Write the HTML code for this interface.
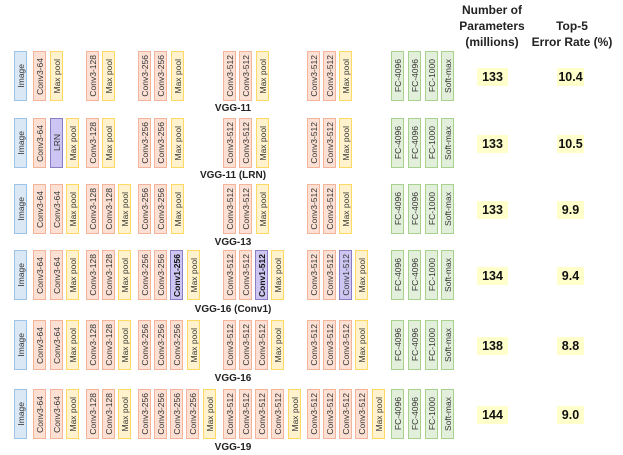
<!DOCTYPE html>
<html><head><meta charset="utf-8"><style>
body{margin:0;width:623px;height:455px;background:#fff;position:relative;overflow:hidden;font-family:"Liberation Sans",sans-serif}
.b{position:absolute;width:11px;height:48px;border:1.5px solid;display:flex;align-items:center;justify-content:center}
.b span{writing-mode:vertical-rl;transform:rotate(180deg);font-size:8.5px;color:#333;white-space:nowrap}
.i{background:#dae8f5;border-color:#9dc3e6}
.c{background:#fbe0d3;border-color:#f4b49a}
.m{background:#fff2cc;border-color:#ffd966}
.f{background:#e2efda;border-color:#a9d18e}
.p{background:#cdc6f2;border-color:#8e7cc3}
.bold span{font-weight:bold;color:#111}
.lab{position:absolute;left:183px;width:100px;text-align:center;font-size:10px;font-weight:bold;color:#222}
.n{position:absolute;height:18px;background:#ffffcc;font-size:12.5px;font-weight:bold;color:#111;display:flex;align-items:center;justify-content:center}
.h{position:absolute;text-align:center;font-size:12px;font-weight:bold;color:#222;line-height:16px}
</style></head><body>
<div class="h" style="left:442px;top:2px;width:100px">Number of<br>Parameters<br>(millions)</div>
<div class="h" style="left:522px;top:18px;width:100px">Top-5<br>Error Rate (%)</div>

<div style="position:absolute;left:0;top:51px">
<div class="b i" style="left:14px"><span>Image</span></div>
<div class="b c" style="left:33px"><span>Conv3-64</span></div>
<div class="b m" style="left:50px"><span>Max pool</span></div>
<div class="b c" style="left:86px"><span>Conv3-128</span></div>
<div class="b m" style="left:102px"><span>Max pool</span></div>
<div class="b c" style="left:138px"><span>Conv3-256</span></div>
<div class="b c" style="left:154px"><span>Conv3-256</span></div>
<div class="b m" style="left:171px"><span>Max pool</span></div>
<div class="b c" style="left:223px"><span>Conv3-512</span></div>
<div class="b c" style="left:239px"><span>Conv3-512</span></div>
<div class="b m" style="left:256px"><span>Max pool</span></div>
<div class="b c" style="left:307px"><span>Conv3-512</span></div>
<div class="b c" style="left:323px"><span>Conv3-512</span></div>
<div class="b m" style="left:339px"><span>Max pool</span></div>
<div class="b f" style="left:391px"><span>FC-4096</span></div>
<div class="b f" style="left:408px"><span>FC-4096</span></div>
<div class="b f" style="left:425px"><span>FC-1000</span></div>
<div class="b f" style="left:441px"><span>Soft-max</span></div>
<div class="n" style="left:477px;top:17px;width:31px">133</div>
<div class="n" style="left:557px;top:17px;width:27px">10.4</div>
<div class="lab" style="top:52px">VGG-11</div>
</div>

<div style="position:absolute;left:0;top:118px">
<div class="b i" style="left:14px"><span>Image</span></div>
<div class="b c" style="left:33px"><span>Conv3-64</span></div>
<div class="b p" style="left:50px"><span>LRN</span></div>
<div class="b m" style="left:66px"><span>Max pool</span></div>
<div class="b c" style="left:86px"><span>Conv3-128</span></div>
<div class="b m" style="left:102px"><span>Max pool</span></div>
<div class="b c" style="left:138px"><span>Conv3-256</span></div>
<div class="b c" style="left:154px"><span>Conv3-256</span></div>
<div class="b m" style="left:171px"><span>Max pool</span></div>
<div class="b c" style="left:223px"><span>Conv3-512</span></div>
<div class="b c" style="left:239px"><span>Conv3-512</span></div>
<div class="b m" style="left:256px"><span>Max pool</span></div>
<div class="b c" style="left:307px"><span>Conv3-512</span></div>
<div class="b c" style="left:323px"><span>Conv3-512</span></div>
<div class="b m" style="left:339px"><span>Max pool</span></div>
<div class="b f" style="left:391px"><span>FC-4096</span></div>
<div class="b f" style="left:408px"><span>FC-4096</span></div>
<div class="b f" style="left:425px"><span>FC-1000</span></div>
<div class="b f" style="left:441px"><span>Soft-max</span></div>
<div class="n" style="left:477px;top:17px;width:31px">133</div>
<div class="n" style="left:557px;top:17px;width:27px">10.5</div>
<div class="lab" style="top:52px">VGG-11 (LRN)</div>
</div>

<div style="position:absolute;left:0;top:184px">
<div class="b i" style="left:14px"><span>Image</span></div>
<div class="b c" style="left:33px"><span>Conv3-64</span></div>
<div class="b c" style="left:50px"><span>Conv3-64</span></div>
<div class="b m" style="left:66px"><span>Max pool</span></div>
<div class="b c" style="left:86px"><span>Conv3-128</span></div>
<div class="b c" style="left:102px"><span>Conv3-128</span></div>
<div class="b m" style="left:118px"><span>Max pool</span></div>
<div class="b c" style="left:138px"><span>Conv3-256</span></div>
<div class="b c" style="left:154px"><span>Conv3-256</span></div>
<div class="b m" style="left:171px"><span>Max pool</span></div>
<div class="b c" style="left:223px"><span>Conv3-512</span></div>
<div class="b c" style="left:239px"><span>Conv3-512</span></div>
<div class="b m" style="left:256px"><span>Max pool</span></div>
<div class="b c" style="left:307px"><span>Conv3-512</span></div>
<div class="b c" style="left:323px"><span>Conv3-512</span></div>
<div class="b m" style="left:339px"><span>Max pool</span></div>
<div class="b f" style="left:391px"><span>FC-4096</span></div>
<div class="b f" style="left:408px"><span>FC-4096</span></div>
<div class="b f" style="left:425px"><span>FC-1000</span></div>
<div class="b f" style="left:441px"><span>Soft-max</span></div>
<div class="n" style="left:477px;top:17px;width:31px">133</div>
<div class="n" style="left:557px;top:17px;width:27px">9.9</div>
<div class="lab" style="top:53px">VGG-13</div>
</div>

<div style="position:absolute;left:0;top:250px">
<div class="b i" style="left:14px"><span>Image</span></div>
<div class="b c" style="left:33px"><span>Conv3-64</span></div>
<div class="b c" style="left:50px"><span>Conv3-64</span></div>
<div class="b m" style="left:66px"><span>Max pool</span></div>
<div class="b c" style="left:86px"><span>Conv3-128</span></div>
<div class="b c" style="left:102px"><span>Conv3-128</span></div>
<div class="b m" style="left:118px"><span>Max pool</span></div>
<div class="b c" style="left:138px"><span>Conv3-256</span></div>
<div class="b c" style="left:154px"><span>Conv3-256</span></div>
<div class="b p bold" style="left:170px"><span>Conv1-256</span></div>
<div class="b m" style="left:187px"><span>Max pool</span></div>
<div class="b c" style="left:223px"><span>Conv3-512</span></div>
<div class="b c" style="left:239px"><span>Conv3-512</span></div>
<div class="b p bold" style="left:255px"><span>Conv1-512</span></div>
<div class="b m" style="left:271px"><span>Max pool</span></div>
<div class="b c" style="left:307px"><span>Conv3-512</span></div>
<div class="b c" style="left:323px"><span>Conv3-512</span></div>
<div class="b p" style="left:339px"><span>Conv1-512</span></div>
<div class="b m" style="left:355px"><span>Max pool</span></div>
<div class="b f" style="left:391px"><span>FC-4096</span></div>
<div class="b f" style="left:408px"><span>FC-4096</span></div>
<div class="b f" style="left:425px"><span>FC-1000</span></div>
<div class="b f" style="left:441px"><span>Soft-max</span></div>
<div class="n" style="left:477px;top:17px;width:31px">134</div>
<div class="n" style="left:557px;top:17px;width:27px">9.4</div>
<div class="lab" style="top:54px">VGG-16 (Conv1)</div>
</div>

<div style="position:absolute;left:0;top:320px">
<div class="b i" style="left:14px"><span>Image</span></div>
<div class="b c" style="left:33px"><span>Conv3-64</span></div>
<div class="b c" style="left:50px"><span>Conv3-64</span></div>
<div class="b m" style="left:66px"><span>Max pool</span></div>
<div class="b c" style="left:86px"><span>Conv3-128</span></div>
<div class="b c" style="left:102px"><span>Conv3-128</span></div>
<div class="b m" style="left:118px"><span>Max pool</span></div>
<div class="b c" style="left:138px"><span>Conv3-256</span></div>
<div class="b c" style="left:154px"><span>Conv3-256</span></div>
<div class="b c" style="left:170px"><span>Conv3-256</span></div>
<div class="b m" style="left:187px"><span>Max pool</span></div>
<div class="b c" style="left:223px"><span>Conv3-512</span></div>
<div class="b c" style="left:239px"><span>Conv3-512</span></div>
<div class="b c" style="left:255px"><span>Conv3-512</span></div>
<div class="b m" style="left:271px"><span>Max pool</span></div>
<div class="b c" style="left:307px"><span>Conv3-512</span></div>
<div class="b c" style="left:323px"><span>Conv3-512</span></div>
<div class="b c" style="left:339px"><span>Conv3-512</span></div>
<div class="b m" style="left:355px"><span>Max pool</span></div>
<div class="b f" style="left:391px"><span>FC-4096</span></div>
<div class="b f" style="left:408px"><span>FC-4096</span></div>
<div class="b f" style="left:425px"><span>FC-1000</span></div>
<div class="b f" style="left:441px"><span>Soft-max</span></div>
<div class="n" style="left:477px;top:17px;width:31px">138</div>
<div class="n" style="left:557px;top:17px;width:27px">8.8</div>
<div class="lab" style="top:53px">VGG-16</div>
</div>

<div style="position:absolute;left:0;top:389px">
<div class="b i" style="left:14px"><span>Image</span></div>
<div class="b c" style="left:33px"><span>Conv3-64</span></div>
<div class="b c" style="left:50px"><span>Conv3-64</span></div>
<div class="b m" style="left:66px"><span>Max pool</span></div>
<div class="b c" style="left:86px"><span>Conv3-128</span></div>
<div class="b c" style="left:102px"><span>Conv3-128</span></div>
<div class="b m" style="left:118px"><span>Max pool</span></div>
<div class="b c" style="left:138px"><span>Conv3-256</span></div>
<div class="b c" style="left:154px"><span>Conv3-256</span></div>
<div class="b c" style="left:170px"><span>Conv3-256</span></div>
<div class="b c" style="left:186px"><span>Conv3-256</span></div>
<div class="b m" style="left:203px"><span>Max pool</span></div>
<div class="b c" style="left:223px"><span>Conv3-512</span></div>
<div class="b c" style="left:239px"><span>Conv3-512</span></div>
<div class="b c" style="left:255px"><span>Conv3-512</span></div>
<div class="b c" style="left:271px"><span>Conv3-512</span></div>
<div class="b m" style="left:288px"><span>Max pool</span></div>
<div class="b c" style="left:307px"><span>Conv3-512</span></div>
<div class="b c" style="left:323px"><span>Conv3-512</span></div>
<div class="b c" style="left:339px"><span>Conv3-512</span></div>
<div class="b c" style="left:355px"><span>Conv3-512</span></div>
<div class="b m" style="left:372px"><span>Max pool</span></div>
<div class="b f" style="left:391px"><span>FC-4096</span></div>
<div class="b f" style="left:408px"><span>FC-4096</span></div>
<div class="b f" style="left:425px"><span>FC-1000</span></div>
<div class="b f" style="left:441px"><span>Soft-max</span></div>
<div class="n" style="left:477px;top:17px;width:31px">144</div>
<div class="n" style="left:557px;top:17px;width:27px">9.0</div>
<div class="lab" style="top:53px">VGG-19</div>
</div>
</body></html>
